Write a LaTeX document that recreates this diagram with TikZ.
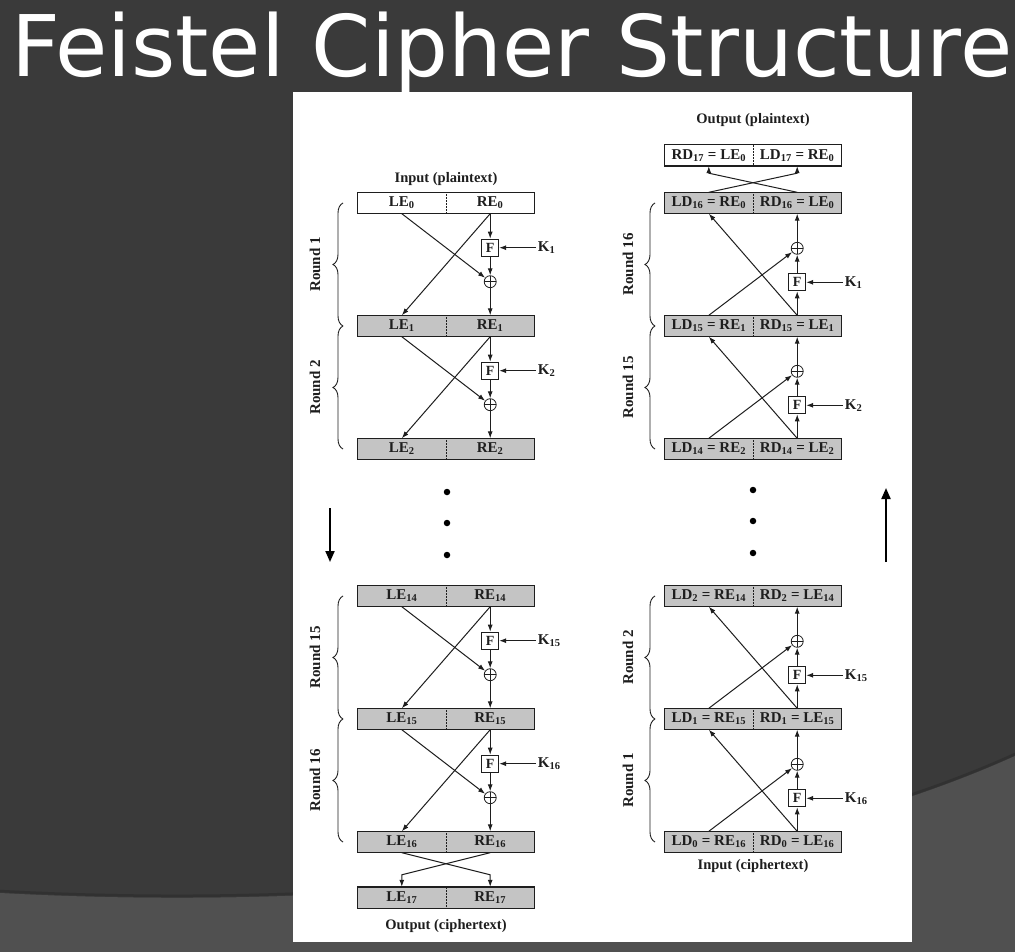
\documentclass[tikz,border=0pt]{standalone}
\usepackage{fontspec}
\setmainfont{Liberation Serif}
\newfontfamily\titlefont{DejaVu Sans}
\usetikzlibrary{arrows.meta,calc,decorations.pathreplacing}

\definecolor{slidebg}{HTML}{3A3A3A}
\definecolor{slidelow}{HTML}{505050}
\definecolor{slideshade}{HTML}{313131}
\definecolor{boxgray}{HTML}{C4C4C4}
\definecolor{ink}{HTML}{1E1E1E}

\newcommand{\fsub}[1]{\textsubscript{#1}}

\tikzset{
  half/.style={minimum width=88pt, minimum height=21pt, inner sep=0pt, text=ink, font=\bfseries\fontsize{15}{15}\selectfont},
  boxline/.style={draw=ink, line width=1.4pt},
  divider/.style={draw=ink, densely dotted, line width=0.5pt},
  fbox/.style={draw=ink, line width=1pt, fill=white, minimum size=17pt, inner sep=0pt, text=ink, font=\bfseries\fontsize{14}{14}\selectfont},
  xorop/.style={circle, draw=ink, line width=0.8pt, minimum size=12pt, inner sep=0pt,
    path picture={\draw[ink, line width=0.7pt] (path picture bounding box.north) -- (path picture bounding box.south)
      (path picture bounding box.west) -- (path picture bounding box.east);}},
  flow/.style={draw=ink, line width=1pt, -{Latex[length=7pt,width=5pt]}},
  keytext/.style={anchor=west, inner sep=1.5pt, text=ink, font=\bfseries\fontsize{15}{15}\selectfont},
  caption/.style={inner sep=0pt, text=ink, font=\bfseries\fontsize{14.5}{14.5}\selectfont},
  roundbrace/.style={draw=ink, line width=0.9pt, decorate, decoration={brace, amplitude=10pt}},
  roundtext/.style={rotate=90, inner sep=0pt, text=ink, font=\bfseries\fontsize{15}{15}\selectfont},
  bigarrow/.style={draw=black, line width=2pt, -{Triangle[length=11pt,width=9pt]}},
  dot/.style={circle, fill=black, minimum size=6.5pt, inner sep=0pt}
}

% one block: #1 name, #2 middle point, #3 fill, #4 left text, #5 right text
\newcommand{\feistelrow}[5]{%
  \node[half, fill=#3, anchor=east] (#1L) at #2 {#4};
  \node[half, fill=#3, anchor=west] (#1R) at #2 {#5};
  \draw[boxline] (#1L.north west) rectangle (#1R.south east);
  \draw[divider] (#1L.north east) -- (#1L.south east);}

% encryption round, going down: #1 from row, #2 to row, #3 prefix, #4 key index
\newcommand{\downround}[4]{%
  \node[fbox] (#3f) at ($(#1R.south)+(0,34)$) {F};
  \node[xorop] (#3x) at ($(#1R.south)+(0,68)$) {};
  \node[keytext] (#3k) at ($(#3f)+(46,0)$) {K\fsub{#4}};
  \draw[flow] (#1R.south) -- (#3f);
  \draw[flow] (#3f) -- (#3x);
  \draw[flow] (#3x) -- (#2R.north);
  \draw[flow] (#3k) -- (#3f);
  \draw[flow] (#1L.south) -- (#3x);
  \draw[flow] (#1R.south) -- (#2L.north);}

% decryption round, going up
\newcommand{\upround}[4]{%
  \node[fbox] (#3f) at ($(#1R.north)+(0,-33)$) {F};
  \node[xorop] (#3x) at ($(#1R.north)+(0,-67)$) {};
  \node[keytext] (#3k) at ($(#3f)+(46,0)$) {K\fsub{#4}};
  \draw[flow] (#1R.north) -- (#3f);
  \draw[flow] (#3f) -- (#3x);
  \draw[flow] (#3x) -- (#2R.south);
  \draw[flow] (#3k) -- (#3f);
  \draw[flow] (#1L.north) -- (#3x);
  \draw[flow] (#1R.north) -- (#2L.south);}

\begin{document}
\begin{tikzpicture}[x=1pt, y=-1pt]
  \useasboundingbox (0,0) rectangle (1015,952);

  % slide background
  \fill[slidebg] (0,0) rectangle (1015,952);
  \fill[slidelow] (0,893) .. controls (350,912) and (750,876) .. (1015,756) -- (1015,952) -- (0,952) -- cycle;
  \draw[slideshade, line width=2.5pt] (0,891) .. controls (350,910) and (750,874) .. (1015,754);
  \fill[white] (293,92) rectangle (912,942);

  \node[text=white, font=\titlefont\fontsize{85}{85}\selectfont, anchor=base west, inner sep=0pt] (title) at (11,77) {Feistel Cipher Structure};

  % encryption
  \node[caption] (inplain) at (446,179) {Input (plaintext)};
  \feistelrow{e0}{(446,203)}{white}{LE\fsub{0}}{RE\fsub{0}}
  \feistelrow{e1}{(446,326)}{boxgray}{LE\fsub{1}}{RE\fsub{1}}
  \feistelrow{e2}{(446,449)}{boxgray}{LE\fsub{2}}{RE\fsub{2}}
  \feistelrow{e14}{(446,596)}{boxgray}{LE\fsub{14}}{RE\fsub{14}}
  \feistelrow{e15}{(446,719)}{boxgray}{LE\fsub{15}}{RE\fsub{15}}
  \feistelrow{e16}{(446,842)}{boxgray}{LE\fsub{16}}{RE\fsub{16}}
  \feistelrow{e17}{(446,897.5)}{boxgray}{LE\fsub{17}}{RE\fsub{17}}
  \node[caption] (outcipher) at (446,926) {Output (ciphertext)};

  \downround{e0}{e1}{a1}{1}
  \downround{e1}{e2}{a2}{2}
  \downround{e14}{e15}{a15}{15}
  \downround{e15}{e16}{a16}{16}

  \coordinate (s1) at ($(e17R.north)+(0,-12)$);
  \coordinate (s2) at ($(e17L.north)+(0,-12)$);
  \draw[flow] (e16L.south) -- (s1) -- (e17R.north);
  \draw[flow] (e16R.south) -- (s2) -- (e17L.north);

  % decryption
  \node[caption] (outplain) at (753,120) {Output (plaintext)};
  \feistelrow{d17}{(753,155.5)}{white}{RD\fsub{17} = LE\fsub{0}}{LD\fsub{17} = RE\fsub{0}}
  \feistelrow{d16}{(753,203)}{boxgray}{LD\fsub{16} = RE\fsub{0}}{RD\fsub{16} = LE\fsub{0}}
  \feistelrow{d15}{(753,326)}{boxgray}{LD\fsub{15} = RE\fsub{1}}{RD\fsub{15} = LE\fsub{1}}
  \feistelrow{d14}{(753,449)}{boxgray}{LD\fsub{14} = RE\fsub{2}}{RD\fsub{14} = LE\fsub{2}}
  \feistelrow{d2}{(753,596)}{boxgray}{LD\fsub{2} = RE\fsub{14}}{RD\fsub{2} = LE\fsub{14}}
  \feistelrow{d1}{(753,719)}{boxgray}{LD\fsub{1} = RE\fsub{15}}{RD\fsub{1} = LE\fsub{15}}
  \feistelrow{d0}{(753,842)}{boxgray}{LD\fsub{0} = RE\fsub{16}}{RD\fsub{0} = LE\fsub{16}}
  \node[caption] (incipher) at (753,866) {Input (ciphertext)};

  \upround{d15}{d16}{b16}{1}
  \upround{d14}{d15}{b15}{2}
  \upround{d1}{d2}{b2}{15}
  \upround{d0}{d1}{b1}{16}

  \coordinate (t1) at ($(d17R.south)+(0,7)$);
  \coordinate (t2) at ($(d17L.south)+(0,7)$);
  \draw[flow] (d16L.north) -- (t1) -- (d17R.south);
  \draw[flow] (d16R.north) -- (t2) -- (d17L.south);

  % round braces
  \draw[roundbrace] (343,326) -- (343,203);
  \draw[roundbrace] (343,449) -- (343,326);
  \draw[roundbrace] (343,719) -- (343,596);
  \draw[roundbrace] (343,842) -- (343,719);
  \node[roundtext] (ra1) at (315,264.5) {Round 1};
  \node[roundtext] (ra2) at (315,387.5) {Round 2};
  \node[roundtext] (ra15) at (315,657.5) {Round 15};
  \node[roundtext] (ra16) at (315,780.5) {Round 16};

  \draw[roundbrace] (655,326) -- (655,203);
  \draw[roundbrace] (655,449) -- (655,326);
  \draw[roundbrace] (655,719) -- (655,596);
  \draw[roundbrace] (655,842) -- (655,719);
  \node[roundtext] (rb16) at (628,264.5) {Round 16};
  \node[roundtext] (rb15) at (628,387.5) {Round 15};
  \node[roundtext] (rb2) at (628,657.5) {Round 2};
  \node[roundtext] (rb1) at (628,780.5) {Round 1};

  % dots and direction arrows
  \foreach \yy [count=\i] in {492,523,555}
    \node[dot] (edot\i) at (447,\yy) {};
  \foreach \yy [count=\i] in {490,521,553}
    \node[dot] (ddot\i) at (753,\yy) {};

  \coordinate (downfrom) at (330,508);
  \coordinate (downto) at (330,562);
  \draw[bigarrow] (downfrom) -- (downto);
  \coordinate (upfrom) at (886,562);
  \coordinate (upto) at (886,488);
  \draw[bigarrow] (upfrom) -- (upto);
\end{tikzpicture}
\end{document}
